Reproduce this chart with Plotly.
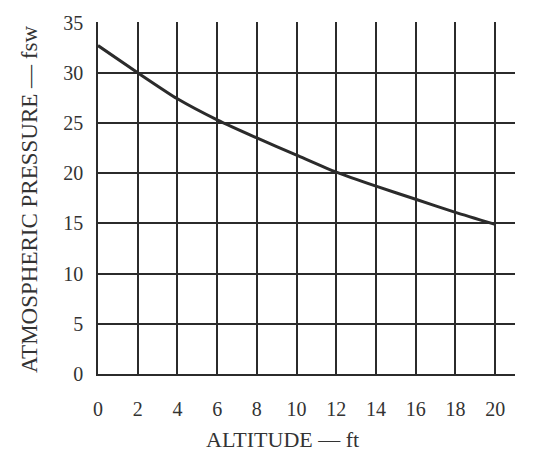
import plotly.graph_objects as go

# Altitude (thousands of ft) vs. atmospheric pressure expressed in feet of sea water
altitude = [0, 2, 4, 6, 8, 10, 12, 14, 16, 18, 20]
pressure_fsw = [32.7, 30.0, 27.4, 25.3, 23.5, 21.8, 20.1, 18.7, 17.4, 16.1, 14.9]

x_ticks = [0, 2, 4, 6, 8, 10, 12, 14, 16, 18, 20]
y_ticks = [0, 5, 10, 15, 20, 25, 30, 35]

ink = "#2b2b2b"
text_col = "#333333"
serif = "Liberation Serif, Times New Roman, serif"

fig = go.Figure()
fig.add_trace(go.Scatter(
    x=altitude, y=pressure_fsw, mode="lines",
    line=dict(color=ink, width=3, shape="spline", smoothing=0.6),
    showlegend=False, hoverinfo="skip",
))

fig.update_layout(
    width=553, height=453,
    margin=dict(l=98, r=38, t=16, b=79),
    paper_bgcolor="white", plot_bgcolor="white",
    font=dict(family=serif, size=20, color=text_col),
    xaxis=dict(
        range=[0, 21], tickvals=x_ticks, ticktext=[str(v) for v in x_ticks],
        showgrid=True, gridcolor=ink, gridwidth=1.5,
        showline=True, linecolor=ink, linewidth=1.5,
        zeroline=False, ticks="", ticklabelstandoff=16,
        tickfont=dict(family=serif, size=20, color=text_col),
    ),
    yaxis=dict(
        range=[0, 35.05], tickvals=y_ticks, ticktext=[str(v) for v in y_ticks],
        showgrid=True, gridcolor=ink, gridwidth=1.5,
        showline=True, linecolor=ink, linewidth=1.5,
        zeroline=False, ticks="", ticklabelstandoff=9,
        tickfont=dict(family=serif, size=20, color=text_col),
    ),
    annotations=[
        dict(text="ALTITUDE — ft", xref="paper", yref="paper",
             x=(282 - 98) / 417, y=-(441 - 374) / 358, xanchor="center", yanchor="middle",
             showarrow=False, font=dict(family=serif, size=22, color=text_col)),
        dict(text="ATMOSPHERIC PRESSURE — fsw", xref="paper", yref="paper",
             x=-(98 - 30) / 417, y=(374 - 197) / 358, xanchor="center", yanchor="middle",
             textangle=-90,
             showarrow=False, font=dict(family=serif, size=23, color=text_col)),
    ],
)

fig.write_html("out.html")
